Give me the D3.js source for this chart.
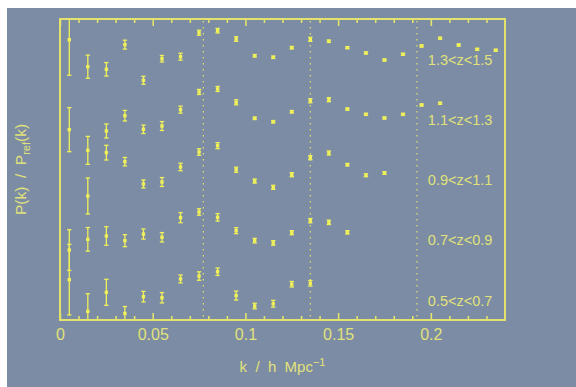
<!DOCTYPE html>
<html>
<head>
<meta charset="utf-8">
<script src="https://cdn.jsdelivr.net/npm/d3@7"></script>
<style>
  body { margin: 0; background: #fff; }
  svg { display: block; font-family: "Liberation Sans", Arial, sans-serif; }
  .tick line { stroke: #e2e26c; stroke-width: 1.6; }
  .tick text { fill: #e2e27a; font-size: 16px; }
</style>
</head>
<body>
<div id="chart"></div>
<script>
// k bin centres (h/Mpc)
const kBins = [0.005, 0.015, 0.025, 0.035, 0.045, 0.055, 0.065, 0.075, 0.085, 0.095,
               0.105, 0.115, 0.125, 0.135, 0.145, 0.155, 0.165, 0.175, 0.185, 0.195,
               0.205, 0.215, 0.225, 0.235];

// P(k)/Pref(k) per redshift slice, with 1-sigma errors
const ratioZ05 = [1.115, 0.852, 1.010, 0.834, 0.974, 0.965, 1.121, 1.145, 1.181, 0.983,
                  0.896, 0.915, 1.077, 1.085];
const errZ05   = [0.293, 0.146, 0.108, 0.058, 0.044, 0.043, 0.033, 0.035, 0.031, 0.037,
                  0.023, 0.028, 0.023, 0.023];

const ratioZ07 = [0.861, 0.950, 0.978, 0.939, 0.994, 0.967, 1.130, 1.177, 1.133, 1.022,
                  0.939, 0.920, 1.005, 1.105, 1.091, 1.008];
const errZ07   = [0.169, 0.098, 0.077, 0.050, 0.042, 0.039, 0.042, 0.027, 0.031, 0.025,
                  0.019, 0.019, 0.017, 0.018, 0.018, 0.014];

const ratioZ09 = [null, 0.810, 1.170, 1.095, 0.910, 0.926, 1.051, 1.175, 1.228, 1.028,
                  0.934, 0.882, 0.987, 1.128, 1.167, 1.070, 0.982, 1.001];
const errZ09   = [null, 0.150, 0.061, 0.035, 0.033, 0.037, 0.031, 0.027, 0.025, 0.021,
                  0.017, 0.017, 0.017, 0.017, 0.017, 0.010, 0.012, 0.011];

const ratioZ11 = [0.861, 0.689, 0.850, 0.977, 0.864, 0.891, 1.027, 1.174, 1.199, 1.088,
                  0.955, 0.927, 1.010, 1.101, 1.110, 1.032, 0.988, 0.958, 0.988, 1.066,
                  1.080];
const errZ11   = [0.183, 0.116, 0.058, 0.044, 0.035, 0.037, 0.029, 0.021, 0.021, 0.021,
                  0.010, 0.010, 0.010, 0.017, 0.017, 0.008, 0.008, 0.008, 0.008, 0.008,
                  0.008];

const ratioZ13 = [1.108, 0.884, 0.862, 1.067, 0.771, 0.950, 0.967, 1.166, 1.183, 1.114,
                  0.975, 0.962, 1.042, 1.111, 1.095, 1.042, 0.998, 0.939, 0.987, 1.056,
                  1.120, 1.064, 1.028, 1.020];
const errZ13   = [0.295, 0.096, 0.056, 0.037, 0.033, 0.027, 0.029, 0.021, 0.019, 0.019,
                  0.010, 0.010, 0.010, 0.017, 0.010, 0.008, 0.008, 0.008, 0.008, 0.008,
                  0.008, 0.008, 0.008, 0.008];

const zLabels  = ['0.5<z<0.7', '0.7<z<0.9', '0.9<z<1.1', '1.1<z<1.3', '1.3<z<1.5'];
const offsets  = [0, 0.5, 1.0, 1.5, 2.0];
const kCuts    = [0.0773, 0.135, 0.1925];
const xTicks   = [0, 0.05, 0.1, 0.15, 0.2];
const labelLevel = 0.9;

const panels = [
  {ratio: ratioZ05, err: errZ05},
  {ratio: ratioZ07, err: errZ07},
  {ratio: ratioZ09, err: errZ09},
  {ratio: ratioZ11, err: errZ11},
  {ratio: ratioZ13, err: errZ13}
];

const bg = '#7b8ca4', yellow = '#e2e26c', marker = '#f0f05a', textCol = '#e2e27a';

// general chart area helper variables
const W = 576, H = 387;
const margin = {top: 19, right: 71, bottom: 67, left: 60};
const width = W - margin.left - margin.right;
const height = H - margin.top - margin.bottom;

const svg = d3.select('#chart').append('svg')
  .attr('width', W)
  .attr('height', H);

svg.append('rect')
  .attr('x', 7).attr('y', 8)
  .attr('width', W - 7).attr('height', H - 8)
  .attr('fill', bg);

const x = d3.scaleLinear().domain([0, 0.24]).range([0, width]);
const y = d3.scaleLinear().domain([0.78, 3.28]).range([height, 0]);

svg.append('defs').append('clipPath')
  .attr('id', 'clip')
  .append('rect')
  .attr('width', width)
  .attr('height', height);

const g = svg.append('g')
  .attr('transform', 'translate(' + margin.left + ',' + margin.top + ')');

// dotted k limits
g.selectAll('.kcut')
  .data(kCuts)
  .enter().append('line')
  .attr('class', 'kcut')
  .attr('x1', d => x(d)).attr('x2', d => x(d))
  .attr('y1', 2).attr('y2', height)
  .attr('stroke', yellow)
  .attr('stroke-width', 1.2)
  .attr('stroke-dasharray', '1.6,4.4');

// axes: ticks inside, labels on bottom only
const minor = d3.range(1, 24).map(i => i / 100).filter(d => Math.round(d * 100) % 5 !== 0);

function addAxis(axisFn, ticks, size, labels, ty) {
  const a = axisFn(x).tickValues(ticks).tickSize(-size).tickPadding(9)
    .tickFormat(labels ? (d => String(d)) : '');
  const ag = g.append('g')
    .attr('transform', 'translate(0,' + ty + ')')
    .call(a);
  ag.select('.domain').remove();
  return ag;
}
addAxis(d3.axisBottom, xTicks, 7, true, height);
addAxis(d3.axisBottom, minor, 4, false, height);
addAxis(d3.axisTop, xTicks, 7, false, 0);
addAxis(d3.axisTop, minor, 4, false, 0);

// points with error bars
const plot = g.append('g').attr('clip-path', 'url(#clip)');

panels.forEach((p, i) => {
  const off = offsets[i];
  const pts = p.ratio
    .map((r, j) => ({k: kBins[j], r: r, e: p.err[j]}))
    .filter(d => d.r !== null);
  const pg = plot.append('g').attr('class', 'panel');

  pg.selectAll('.bar').data(pts).enter().append('line')
    .attr('x1', d => x(d.k)).attr('x2', d => x(d.k))
    .attr('y1', d => y(d.r + off - d.e)).attr('y2', d => y(d.r + off + d.e))
    .attr('stroke', marker).attr('stroke-width', 1.3);

  ['lo', 'hi'].forEach(side => {
    pg.selectAll('.cap-' + side).data(pts).enter().append('line')
      .attr('x1', d => x(d.k) - 2.2).attr('x2', d => x(d.k) + 2.2)
      .attr('y1', d => y(d.r + off + (side === 'hi' ? d.e : -d.e)))
      .attr('y2', d => y(d.r + off + (side === 'hi' ? d.e : -d.e)))
      .attr('stroke', marker).attr('stroke-width', 1.3);
  });

  pg.selectAll('.pt').data(pts).enter().append('rect')
    .attr('x', d => x(d.k) - 1.7).attr('y', d => y(d.r + off) - 1.7)
    .attr('width', 3.4).attr('height', 3.4)
    .attr('fill', marker);
});

// redshift labels
g.selectAll('.zlab')
  .data(zLabels)
  .enter().append('text')
  .attr('class', 'zlab')
  .attr('x', x(0.1984))
  .attr('y', (d, i) => y(labelLevel + offsets[i]))
  .attr('fill', textCol)
  .style('font-size', '14.5px')
  .text(d => d);

// frame
g.append('rect')
  .attr('width', width).attr('height', height)
  .attr('fill', 'none')
  .attr('stroke', yellow)
  .attr('stroke-width', 2);

// axis titles
const xt = svg.append('text')
  .attr('x', margin.left + width / 2)
  .attr('y', 371.7)
  .attr('text-anchor', 'middle')
  .attr('fill', textCol)
  .style('font-size', '15px')
  .style('white-space', 'pre');
xt.append('tspan').text('k  /  h  Mpc');
xt.append('tspan').attr('dy', -6).style('font-size', '11px').text('\u22121');

const yt = svg.append('text')
  .attr('transform', 'translate(26,' + (margin.top + height / 2) + ') rotate(-90)')
  .attr('text-anchor', 'middle')
  .attr('fill', textCol)
  .style('font-size', '15.5px')
  .style('white-space', 'pre');
yt.append('tspan').text('P(k)  /  P');
yt.append('tspan').attr('dy', 4).style('font-size', '11px').text('ref');
yt.append('tspan').attr('dy', -4).text('(k)');
</script>
</body>
</html>
